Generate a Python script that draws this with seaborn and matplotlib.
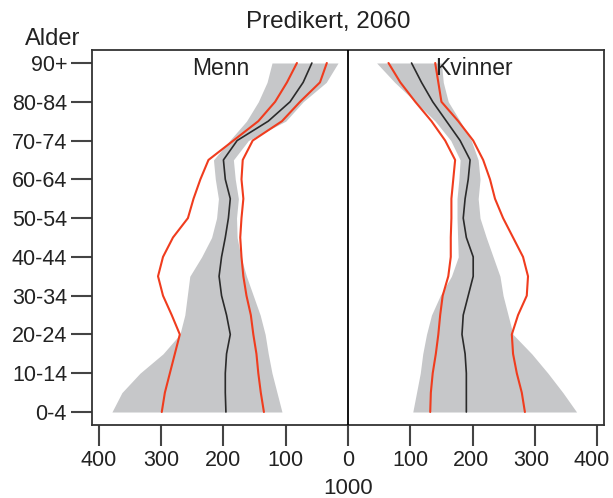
import numpy as np
import matplotlib
matplotlib.use("Agg")
import matplotlib.pyplot as plt
import matplotlib.transforms as mtransforms
import seaborn as sns

# ---- data (thousands of persons) ----
age_groups = ['0-4', '5-9', '10-14', '15-19', '20-24', '25-29', '30-34', '35-39',
              '40-44', '45-49', '50-54', '55-59', '60-64', '65-69', '70-74',
              '75-79', '80-84', '85-89', '90+']
tick_labels = ['0-4', '10-14', '20-24', '30-34', '40-44', '50-54', '60-64',
               '70-74', '80-84', '90+']
x_tick_values = [-400, -300, -200, -100, 0, 100, 200, 300, 400]
x_tick_labels = ['400', '300', '200', '100', '0', '100', '200', '300', '400']

men_median = [196, 197, 197, 195, 189, 195, 203, 207, 203, 197, 192, 189, 197, 200, 178, 128, 93, 72, 58]
men_red_outer = [299, 294, 286, 278, 270, 283, 297, 305, 297, 281, 257, 248, 237, 224, 184, 144, 117, 98, 82]
men_red_inner = [135, 140, 144, 147, 152, 156, 163, 168, 171, 173, 171, 168, 171, 169, 153, 106, 77, 45, 34]
men_gray_outer = [379, 363, 334, 297, 270, 262, 258, 254, 235, 219, 211, 208, 213, 216, 190, 163, 144, 130, 122]
men_gray_inner = [106, 114, 122, 128, 133, 141, 152, 163, 172, 178, 179, 176, 181, 184, 160, 100, 72, 35, 16]

women_median = [190, 190, 190, 188, 183, 185, 193, 201, 201, 190, 185, 188, 193, 196, 180, 158, 136, 118, 102]
women_red_inner = [132, 133, 136, 141, 145, 148, 152, 161, 165, 165, 166, 166, 169, 172, 156, 134, 108, 84, 65]
women_red_outer = [284, 279, 271, 265, 263, 273, 287, 289, 281, 265, 249, 236, 228, 217, 201, 177, 150, 145, 140]
women_gray_inner = [104, 110, 116, 120, 126, 134, 148, 166, 177, 176, 175, 175, 178, 180, 165, 140, 108, 75, 46]
women_gray_outer = [367, 345, 321, 295, 265, 257, 249, 244, 233, 222, 212, 209, 212, 209, 198, 180, 161, 153, 150]

# ---- style ----
sns.set_style("white")
plt.rcParams['font.family'] = ['Liberation Sans', 'DejaVu Sans']

gray = '#c6c7c9'
red = '#f03c1e'
dark = '#2a2a2a'
edge = '#333333'
txt = '#222222'

W, H = 613, 498
fig = plt.figure(figsize=(W / 100, H / 100), dpi=100)
ax = fig.add_axes([92 / W, 1 - 425 / H, (604 - 92) / W, (425 - 50) / H])

y = np.arange(len(age_groups))
neg = lambda v: -np.asarray(v, dtype=float)

# shaded bands
ax.fill_betweenx(y, neg(men_gray_outer), neg(men_gray_inner), color=gray, lw=0, zorder=1)
ax.fill_betweenx(y, np.asarray(women_gray_inner, float), np.asarray(women_gray_outer, float),
                 color=gray, lw=0, zorder=1)

# lines
for vals, col, lw in [(neg(men_red_outer), red, 1.5), (neg(men_red_inner), red, 1.5),
                      (neg(men_median), dark, 1.2),
                      (women_red_inner, red, 1.5), (women_red_outer, red, 1.5),
                      (women_median, dark, 1.2)]:
    sns.lineplot(x=np.asarray(vals, float), y=y, orient='y', sort=False,
                 color=col, lw=lw, ax=ax, zorder=3)

ax.axvline(0, color='black', lw=1.3, zorder=4)

ax.set_xlim(-411, 411)
ax.set_ylim(-0.67, 18.67)
ax.set_xticks(x_tick_values)
ax.set_xticklabels(x_tick_labels)
ax.set_yticks(np.arange(0, len(age_groups), 2))
ax.set_yticklabels(tick_labels)
ax.set_xlabel('')
ax.set_ylabel('')

ax.tick_params(axis='both', which='major', direction='out', length=15, width=1.5,
               color='#444444', labelsize=15.5, labelcolor=txt, pad=3,
               bottom=True, left=True)
for sp in ax.spines.values():
    sp.set_visible(True)
    sp.set_color(edge)
    sp.set_linewidth(1.3)

# nudge the right-most x tick labels inward as in the reference
xl = ax.get_xticklabels()
for lab, dx in zip(xl[-3:], [-2, -4, -6]):
    lab.set_transform(lab.get_transform() + mtransforms.ScaledTranslation(dx / 100, 0, fig.dpi_scale_trans))

ax.text(-204, 17.7, 'Menn', ha='center', va='center', fontsize=16.5, color=txt)
ax.text(202, 17.7, 'Kvinner', ha='center', va='center', fontsize=16.5, color=txt, zorder=5)

fig.text(328 / W, 1 - 22 / H, 'Predikert, 2060', ha='center', va='center', fontsize=17.5, color=txt)
fig.text(53 / W, 1 - 39 / H, 'Alder', ha='center', va='center', fontsize=17, color=txt)
fig.text(348 / W, 1 - 488 / H, '1000', ha='center', va='center', fontsize=16, color=txt)

fig.savefig('out.png', dpi=100)
